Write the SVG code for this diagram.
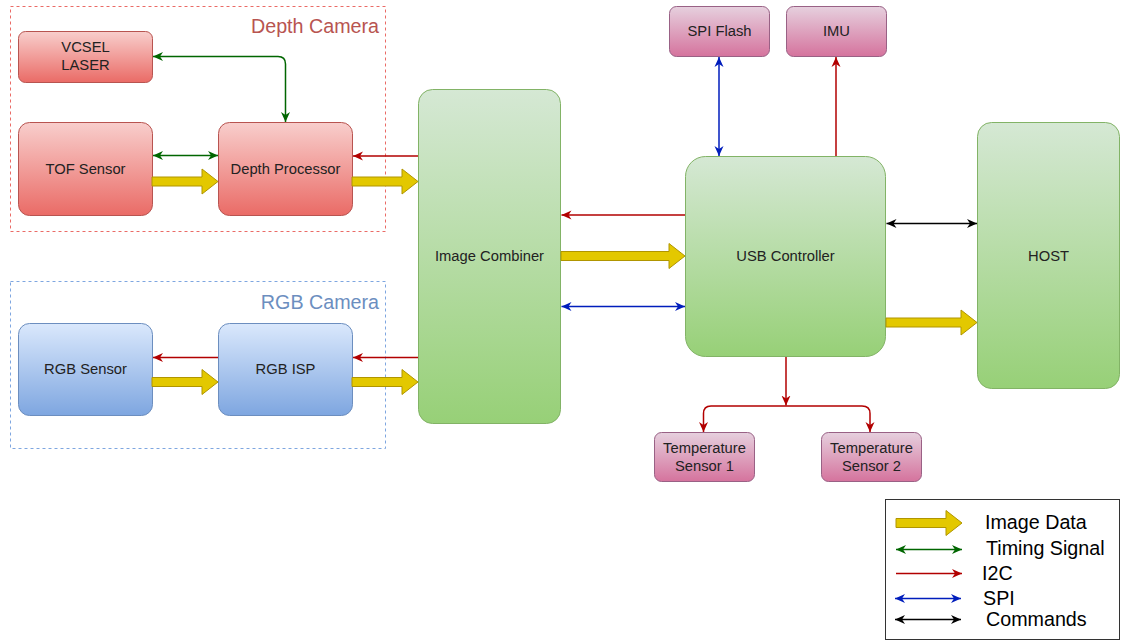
<svg xmlns="http://www.w3.org/2000/svg" width="1125" height="643" viewBox="0 0 1125 643">
  <defs>
    <linearGradient id="gRed" x1="0" y1="0" x2="0" y2="1">
      <stop offset="0" stop-color="#f8cecc"/>
      <stop offset="1" stop-color="#ea6b66"/>
    </linearGradient>
    <linearGradient id="gBlue" x1="0" y1="0" x2="0" y2="1">
      <stop offset="0" stop-color="#dae8fc"/>
      <stop offset="1" stop-color="#7ea6e0"/>
    </linearGradient>
    <linearGradient id="gGreen" x1="0" y1="0" x2="0" y2="1">
      <stop offset="0" stop-color="#d5e8d4"/>
      <stop offset="1" stop-color="#97d077"/>
    </linearGradient>
    <linearGradient id="gPink" x1="0" y1="0" x2="0" y2="1">
      <stop offset="0" stop-color="#e6d0de"/>
      <stop offset="1" stop-color="#d5739d"/>
    </linearGradient>
    <marker id="aGreen" markerUnits="userSpaceOnUse" markerWidth="11" markerHeight="10" refX="10" refY="5" orient="auto-start-reverse">
      <path d="M0,0.5 L10,5 L0,9.5 L3,5 Z" fill="#006600"/>
    </marker>
    <marker id="aRed" markerUnits="userSpaceOnUse" markerWidth="11" markerHeight="10" refX="10" refY="5" orient="auto-start-reverse">
      <path d="M0,0.5 L10,5 L0,9.5 L3,5 Z" fill="#b20000"/>
    </marker>
    <marker id="aBlue" markerUnits="userSpaceOnUse" markerWidth="11" markerHeight="10" refX="10" refY="5" orient="auto-start-reverse">
      <path d="M0,0.5 L10,5 L0,9.5 L3,5 Z" fill="#001dbc"/>
    </marker>
    <marker id="aBlack" markerUnits="userSpaceOnUse" markerWidth="11" markerHeight="10" refX="10" refY="5" orient="auto-start-reverse">
      <path d="M0,0.5 L10,5 L0,9.5 L3,5 Z" fill="#000000"/>
    </marker>
  </defs>
  <style>
    text { font-family: "Liberation Sans", Arial, Helvetica, sans-serif; }
    .lbl { font-size: 14.76px; fill: #222222; text-anchor: middle; }
    .grp { font-size: 19.7px; text-anchor: end; }
    .leg { font-size: 19.7px; fill: #000000; }
    .red { fill: url(#gRed); stroke: #b85450; stroke-width: 1; }
    .blue { fill: url(#gBlue); stroke: #6c8ebf; stroke-width: 1; }
    .green { fill: url(#gGreen); stroke: #82b366; stroke-width: 1; }
    .pink { fill: url(#gPink); stroke: #996185; stroke-width: 1; }
    .data { fill: #e3c800; stroke: #b09500; stroke-width: 1; }
    .line { fill: none; stroke-width: 1.5; }
    .tim { stroke: #006600; }
    .i2c { stroke: #b20000; }
    .spi { stroke: #001dbc; }
    .cmd { stroke: #000000; }
  </style>

  <rect width="1125" height="643" fill="#ffffff"/>

  <!-- camera groupings -->
  <g id="depth-camera">
    <rect x="10.5" y="6.5" width="375" height="225" fill="none" stroke="#ea6b66" stroke-width="1" stroke-dasharray="3,3"/>
    <text class="grp" x="379" y="33" fill="#b85450">Depth Camera</text>
  </g>
  <g id="rgb-camera">
    <rect x="10.5" y="281.5" width="375" height="167" fill="none" stroke="#7ea6e0" stroke-width="1" stroke-dasharray="3,3"/>
    <text class="grp" x="379" y="309" fill="#6c8ebf">RGB Camera</text>
  </g>

  <!-- nodes -->
  <g id="vcsel-laser">
    <rect class="red" x="18.5" y="31.5" width="134" height="51" rx="7"/>
    <text class="lbl" x="85.5" y="52">VCSEL</text>
    <text class="lbl" x="85.5" y="69.5">LASER</text>
  </g>
  <g id="tof-sensor">
    <rect class="red" x="18.5" y="122.5" width="134" height="93" rx="11"/>
    <text class="lbl" x="85.5" y="173.5">TOF Sensor</text>
  </g>
  <g id="depth-processor">
    <rect class="red" x="218.5" y="122.5" width="134" height="93" rx="11"/>
    <text class="lbl" x="285.5" y="173.5">Depth Processor</text>
  </g>
  <g id="rgb-sensor">
    <rect class="blue" x="18.5" y="323.5" width="134" height="92" rx="11"/>
    <text class="lbl" x="85.5" y="374">RGB Sensor</text>
  </g>
  <g id="rgb-isp">
    <rect class="blue" x="218.5" y="323.5" width="134" height="92" rx="11"/>
    <text class="lbl" x="285.5" y="374">RGB ISP</text>
  </g>
  <g id="image-combiner">
    <rect class="green" x="418.5" y="89.5" width="142" height="334" rx="14"/>
    <text class="lbl" x="489.5" y="261">Image Combiner</text>
  </g>
  <g id="usb-controller">
    <rect class="green" x="685.5" y="156.5" width="200" height="200" rx="20"/>
    <text class="lbl" x="785.5" y="261">USB Controller</text>
  </g>
  <g id="host">
    <rect class="green" x="977.5" y="122.5" width="142" height="266" rx="14"/>
    <text class="lbl" x="1048.5" y="260.5">HOST</text>
  </g>
  <g id="spi-flash">
    <rect class="pink" x="669.5" y="6.5" width="100" height="50" rx="7"/>
    <text class="lbl" x="719.5" y="36">SPI Flash</text>
  </g>
  <g id="imu">
    <rect class="pink" x="786.5" y="6.5" width="100" height="50" rx="7"/>
    <text class="lbl" x="836.5" y="36">IMU</text>
  </g>
  <g id="temperature-sensor-1">
    <rect class="pink" x="654.5" y="432.5" width="100" height="49" rx="7"/>
    <text class="lbl" x="704.5" y="452.5">Temperature</text>
    <text class="lbl" x="704.5" y="470.5">Sensor 1</text>
  </g>
  <g id="temperature-sensor-2">
    <rect class="pink" x="821.5" y="432.5" width="100" height="49" rx="7"/>
    <text class="lbl" x="871.5" y="452.5">Temperature</text>
    <text class="lbl" x="871.5" y="470.5">Sensor 2</text>
  </g>

  <!-- connectors -->
  <g id="connectors">
    <!-- image data (wide arrows) -->
    <polygon class="data" points="152,177 202,177 202,169 218,181.5 202,194 202,186 152,186"/>
    <polygon class="data" points="352,177 402,177 402,169 418,181.5 402,194 402,186 352,186"/>
    <polygon class="data" points="152,377.5 202,377.5 202,369.5 218,382 202,394.5 202,386.5 152,386.5"/>
    <polygon class="data" points="352,377.5 402,377.5 402,369.5 418,382 402,394.5 402,386.5 352,386.5"/>
    <polygon class="data" points="561,251.5 669,251.5 669,243.5 685,256 669,268.5 669,260.5 561,260.5"/>
    <polygon class="data" points="886,318 961,318 961,310 977,322.5 961,335 961,327 886,327"/>

    <!-- timing signal -->
    <path class="line tim" d="M285.5,122 L285.5,64 Q285.5,56.5 278,56.5 L153,56.5" marker-start="url(#aGreen)" marker-end="url(#aGreen)"/>
    <path class="line tim" d="M153,155.5 L218,155.5" marker-start="url(#aGreen)" marker-end="url(#aGreen)"/>

    <!-- I2C -->
    <path class="line i2c" d="M418,156 L353,156" marker-end="url(#aRed)"/>
    <path class="line i2c" d="M685,215 L561.5,215" marker-end="url(#aRed)"/>
    <path class="line i2c" d="M418,357.5 L353,357.5" marker-end="url(#aRed)"/>
    <path class="line i2c" d="M218,357.5 L153,357.5" marker-end="url(#aRed)"/>
    <path class="line i2c" d="M836,156 L836,57" marker-end="url(#aRed)"/>
    <path class="line i2c" d="M786,357 L786,405.5" marker-end="url(#aRed)"/>
    <path class="line i2c" d="M786,406 L711,406 Q703.5,406 703.5,413.5 L703.5,432" marker-end="url(#aRed)"/>
    <path class="line i2c" d="M786,406 L862,406 Q870,406 870,413.5 L870,432" marker-end="url(#aRed)"/>

    <!-- SPI -->
    <path class="line spi" d="M719,57 L719,156" marker-start="url(#aBlue)" marker-end="url(#aBlue)"/>
    <path class="line spi" d="M561.5,306.5 L685,306.5" marker-start="url(#aBlue)" marker-end="url(#aBlue)"/>

    <!-- commands -->
    <path class="line cmd" d="M886.5,223.5 L977,223.5" marker-start="url(#aBlack)" marker-end="url(#aBlack)"/>
  </g>

  <!-- legend -->
  <g id="legend">
    <rect x="885.5" y="499.5" width="234" height="140" fill="#ffffff" stroke="#333333" stroke-width="1"/>
    <polygon class="data" points="896,518.5 946,518.5 946,510.5 962,523 946,535.5 946,527.5 896,527.5"/>
    <text class="leg" x="985" y="529">Image Data</text>
    <path class="line tim" d="M896,549.5 L962,549.5" marker-start="url(#aGreen)" marker-end="url(#aGreen)"/>
    <text class="leg" x="986" y="554.5">Timing Signal</text>
    <path class="line i2c" d="M896,573.5 L962,573.5" marker-end="url(#aRed)"/>
    <text class="leg" x="982" y="580">I2C</text>
    <path class="line spi" d="M895,598.5 L961,598.5" marker-start="url(#aBlue)" marker-end="url(#aBlue)"/>
    <text class="leg" x="983" y="605">SPI</text>
    <path class="line cmd" d="M895,619.5 L961,619.5" marker-start="url(#aBlack)" marker-end="url(#aBlack)"/>
    <text class="leg" x="986" y="626">Commands</text>
  </g>
</svg>
